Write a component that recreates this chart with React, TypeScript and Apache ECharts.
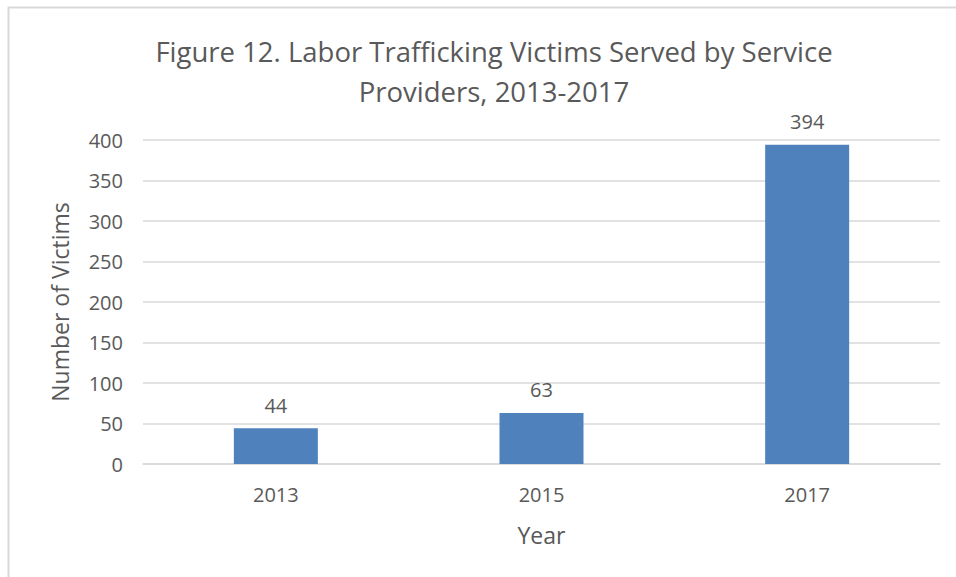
import React, { useEffect, useRef } from "react";
import * as echarts from "echarts";

const categories = ["2013", "2015", "2017"];
const victims = [44, 63, 394];
const titleLines = ["Figure 12. Labor Trafficking Victims Served by Service", "Providers, 2013-2017"];

const FONT = "'Open Sans', 'Noto Sans', sans-serif";
const TEXT = "#595959";

export default function App() {
  const ref = useRef<HTMLDivElement>(null);
  useEffect(() => {
    if (!ref.current) return;
    const chart = echarts.init(ref.current, null, { renderer: "svg" });
    chart.setOption({
      animation: false,
      backgroundColor: "#ffffff",
      textStyle: { fontFamily: FONT },
      title: {
        text: titleLines.join("\n"),
        left: 489,
        textAlign: "center",
        top: 26,
        textStyle: { fontFamily: FONT, fontSize: 27.5, fontWeight: "normal", color: TEXT, lineHeight: 40 },
      },
      graphic: [
        {
          type: "rect",
          shape: { x: 8.5, y: 7.5, width: 1000, height: 1000 },
          style: { fill: "none", stroke: "#d9d9d9", lineWidth: 2 },
          silent: true,
        },
      ],
      grid: { left: 143, right: 16, top: 140, bottom: 113 },
      xAxis: {
        type: "category",
        data: categories,
        name: "Year",
        nameLocation: "middle",
        nameGap: 59,
        nameTextStyle: { fontFamily: FONT, fontSize: 23, color: TEXT },
        axisLine: { lineStyle: { color: "#d9d9d9", width: 1.5 } },
        axisTick: { show: false },
        axisLabel: { fontFamily: FONT, fontSize: 20, color: TEXT, margin: 20 },
      },
      yAxis: {
        type: "value",
        min: 0,
        max: 400,
        interval: 50,
        name: "Number of Victims",
        nameLocation: "middle",
        nameGap: 72,
        nameTextStyle: { fontFamily: FONT, fontSize: 23, color: TEXT },
        axisLine: { show: false },
        axisTick: { show: false },
        axisLabel: { fontFamily: FONT, fontSize: 20, color: TEXT, margin: 20 },
        splitLine: { lineStyle: { color: "#d9d9d9", width: 1.5 } },
      },
      series: [
        {
          type: "bar",
          data: victims,
          barWidth: 84,
          itemStyle: { color: "#4f81bd" },
          label: {
            show: true,
            position: "top",
            distance: 13,
            fontFamily: FONT,
            fontSize: 20,
            color: TEXT,
          },
        },
      ],
    });
    return () => chart.dispose();
  }, []);
  return <div ref={ref} style={{ position: "absolute", left: 0, top: 0, width: 956, height: 577 }} />;
}
